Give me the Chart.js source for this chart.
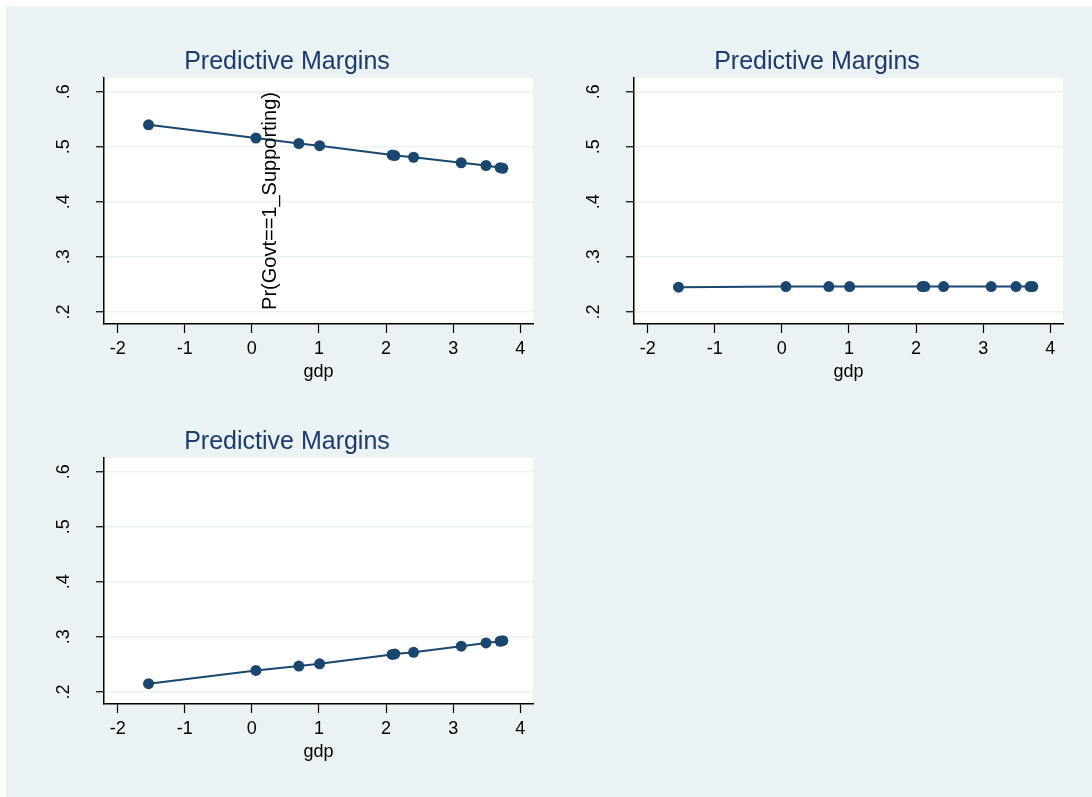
<!DOCTYPE html>
<html>
<head>
<meta charset="utf-8">
<script src="https://cdn.jsdelivr.net/npm/chart.js@4"></script>
<style>
  html, body { margin: 0; padding: 0; background: #ffffff; overflow: hidden; }
  #bg { position: absolute; left: 6px; top: 6px; width: 1086px; height: 791px; background: #eaf2f3; }
  canvas { position: absolute; }
</style>
</head>
<body>
<div id="bg"></div>
<canvas id="panel1" width="546" height="400" style="left:0px;top:0px"></canvas>
<canvas id="panel2" width="546" height="400" style="left:530px;top:0px"></canvas>
<canvas id="panel3" width="546" height="400" style="left:0px;top:380px"></canvas>
<script>
// data
const xTicks = [-2, -1, 0, 1, 2, 3, 4];
const yTicks = [0.2, 0.3, 0.4, 0.5, 0.6];
const gdp = [-1.54, 0.06, 0.70, 1.01, 2.09, 2.13, 2.41, 3.12, 3.49, 3.70, 3.74];
const margins1 = [0.540, 0.516, 0.506, 0.502, 0.485, 0.484, 0.481, 0.471, 0.466, 0.462, 0.461];
const margins2 = [0.245, 0.246, 0.246, 0.246, 0.246, 0.246, 0.246, 0.246, 0.246, 0.246, 0.246];
const margins3 = [0.215, 0.239, 0.247, 0.251, 0.268, 0.269, 0.272, 0.283, 0.289, 0.292, 0.293];

const panelTitle = 'Predictive Margins';
const xTitle = 'gdp';
const yTitle = 'Pr(Govt==1_Supporting)';

const navy = '#1a476f';
const titleNavy = '#1e3a6b';
const fontFamily = '"Liberation Sans", Arial, sans-serif';

// white plot region + panel title + (optional) y title
const panelDecor = {
    id: 'panelDecor',
    beforeDraw(chart) {
        const { ctx, chartArea } = chart;
        ctx.save();
        ctx.fillStyle = '#ffffff';
        ctx.fillRect(chartArea.left, chartArea.top, chartArea.right - chartArea.left, chartArea.bottom - chartArea.top);
        ctx.restore();
    },
    afterDatasetsDraw(chart, args, opts) {
        const { ctx, chartArea } = chart;
        ctx.save();
        ctx.fillStyle = titleNavy;
        ctx.font = '25px ' + fontFamily;
        ctx.textAlign = 'center';
        ctx.textBaseline = 'middle';
        ctx.fillText(panelTitle, chartArea.left + 183, 62);
        if (opts.yTitle) {
            ctx.translate(chartArea.left + 166, (chartArea.top + chartArea.bottom) / 2);
            ctx.rotate(-Math.PI / 2);
            ctx.fillStyle = '#000000';
            ctx.font = '20px ' + fontFamily;
            ctx.fillText(opts.yTitle, 0, 0);
        }
        ctx.restore();
    }
};

function makePanel(id, values, showYTitle) {
    let points = gdp.map((g, i) => ({ x: g, y: values[i] }));
    return new Chart(document.getElementById(id).getContext('2d'), {
        type: 'scatter',
        data: {
            datasets: [{
                data: points,
                showLine: true,
                borderColor: navy,
                borderWidth: 2,
                backgroundColor: navy,
                pointBackgroundColor: navy,
                pointBorderWidth: 0,
                pointRadius: 5.5,
                clip: false
            }]
        },
        options: {
            responsive: false,
            animation: false,
            layout: { padding: { top: 78, right: 13, left: 0, bottom: 0 } },
            plugins: {
                legend: { display: false },
                tooltip: { enabled: false },
                panelDecor: { yTitle: showYTitle ? yTitle : null }
            },
            scales: {
                x: {
                    type: 'linear',
                    min: -2.204,
                    max: 4.19,
                    afterFit: s => { s.height = 76; },
                    afterBuildTicks: s => { s.ticks = xTicks.map(v => ({ value: v })); },
                    grid: { drawOnChartArea: false, tickLength: 9, tickColor: '#000', tickWidth: 1.2 },
                    border: { color: '#000', width: 1.5 },
                    ticks: {
                        color: '#000',
                        font: { family: fontFamily, size: 18 },
                        padding: 5,
                        maxRotation: 0,
                        callback: v => String(v)
                    },
                    title: {
                        display: true,
                        text: xTitle,
                        color: '#000',
                        font: { family: fontFamily, size: 18 },
                        padding: { top: 0, bottom: 17 }
                    }
                },
                y: {
                    type: 'linear',
                    min: 0.178,
                    max: 0.625,
                    afterFit: s => { s.width = 104; },
                    afterBuildTicks: s => { s.ticks = yTicks.map(v => ({ value: v })); },
                    grid: { color: '#eaf2f3', lineWidth: 1.5, tickLength: 8, tickColor: '#000', tickWidth: 1.2 },
                    border: { color: '#000', width: 1.5 },
                    ticks: {
                        color: '#000',
                        font: { family: fontFamily, size: 18 },
                        minRotation: 90,
                        maxRotation: 90,
                        crossAlign: 'center',
                        padding: 24,
                        callback: v => String(v).replace(/^0/, '')
                    }
                }
            }
        },
        plugins: [panelDecor]
    });
}

makePanel('panel1', margins1, true);
makePanel('panel2', margins2, false);
makePanel('panel3', margins3, false);
</script>
</body>
</html>
